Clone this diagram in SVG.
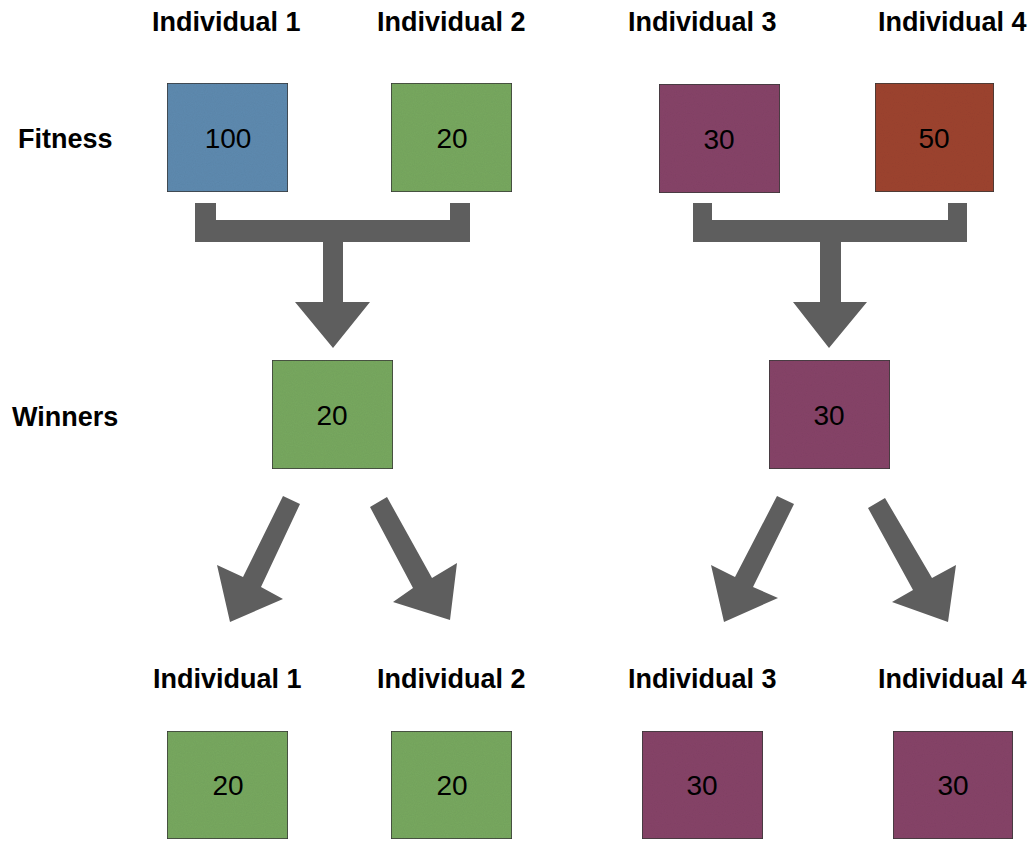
<svg xmlns="http://www.w3.org/2000/svg" width="1032" height="841" viewBox="0 0 1032 841">
  <defs>
    <!-- light paper grain for the coloured squares -->
    <filter id="grain" x="0" y="0" width="100%" height="100%">
      <feTurbulence type="fractalNoise" baseFrequency="0.9" numOctaves="2" seed="3" result="noise"/>
      <feColorMatrix in="noise" type="matrix" values="0 0 0 0 0  0 0 0 0 0  0 0 0 0 0  0 0 0 0.10 0" result="speck"/>
      <feComposite in="speck" in2="SourceGraphic" operator="in" result="speckIn"/>
      <feMerge>
        <feMergeNode in="SourceGraphic"/>
        <feMergeNode in="speckIn"/>
      </feMerge>
    </filter>
    <style>
      .box { stroke: #3a3a3a; stroke-width: 1.5; filter: url(#grain); }
      .blue { fill: #5f8bb0; }
      .green { fill: #78a961; }
      .purple { fill: #874469; }
      .red { fill: #9e4432; }
      .val { font-family: "Liberation Sans", Arial, sans-serif; font-size: 28px; fill: #000; text-anchor: middle; }
      .head { font-family: "Liberation Sans", Arial, sans-serif; font-size: 27px; font-weight: bold; fill: #000; }
      .arrow { fill: #5e5e5e; }
    </style>
  </defs>

  <rect width="1032" height="841" fill="#ffffff"/>

  <!-- row labels -->
  <g id="labels">
    <text class="head" x="18" y="148">Fitness</text>
    <text class="head" x="12" y="426">Winners</text>
  </g>

  <!-- column headings, top -->
  <g id="headings-top">
    <text class="head" x="152" y="31">Individual 1</text>
    <text class="head" x="377" y="31">Individual 2</text>
    <text class="head" x="628" y="31">Individual 3</text>
    <text class="head" x="878" y="31">Individual 4</text>
  </g>

  <!-- fitness row -->
  <g id="fit1"><rect class="box blue" x="167" y="83" width="121" height="109"/><text class="val" x="228" y="148">100</text></g>
  <g id="fit2"><rect class="box green" x="391" y="83" width="121" height="109"/><text class="val" x="452" y="148">20</text></g>
  <g id="fit3"><rect class="box purple" x="659" y="84" width="121" height="109"/><text class="val" x="719" y="149">30</text></g>
  <g id="fit4"><rect class="box red" x="875" y="83" width="119" height="109"/><text class="val" x="934" y="148">50</text></g>

  <!-- tournament winners -->
  <g id="win1"><rect class="box green" x="272" y="360" width="121" height="109"/><text class="val" x="332" y="425">20</text></g>
  <g id="win2"><rect class="box purple" x="769" y="360" width="121" height="109"/><text class="val" x="829" y="425">30</text></g>

  <!-- column headings, bottom -->
  <g id="headings-bottom">
    <text class="head" x="153" y="688">Individual 1</text>
    <text class="head" x="377" y="688">Individual 2</text>
    <text class="head" x="628" y="688">Individual 3</text>
    <text class="head" x="878" y="688">Individual 4</text>
  </g>

  <!-- next generation -->
  <g id="next1"><rect class="box green" x="167" y="731" width="121" height="108"/><text class="val" x="228" y="795">20</text></g>
  <g id="next2"><rect class="box green" x="391" y="731" width="121" height="108"/><text class="val" x="452" y="795">20</text></g>
  <g id="next3"><rect class="box purple" x="642" y="731" width="121" height="108"/><text class="val" x="702" y="795">30</text></g>
  <g id="next4"><rect class="box purple" x="893" y="731" width="120" height="108"/><text class="val" x="953" y="795">30</text></g>

  <!-- connectors -->
  <g id="connectors">
    <!-- bracket merges pairs into one winner -->
    <polygon class="arrow" points="195,203 216,203 216,220 450,220 450,203 470,203 470,242 343,242 343,302 370,302 333,348 295,302 323,302 323,242 195,242"/>
    <polygon class="arrow" points="693,203 712,203 712,220 948,220 948,203 967,203 967,242 841,242 841,302 867,302 829,348 793,302 820,302 820,242 693,242"/>
    <!-- winner copied to both offspring slots -->
    <polygon class="arrow" points="283,496 300,504 261,587 283,599 230,622 217,565 243,577"/>
    <polygon class="arrow" points="370,507 387,497 432,578 457,563 450,620 393,602 413,588"/>
    <polygon class="arrow" points="777,496 794,504 753,587 778,598 724,622 711,565 735,577"/>
    <polygon class="arrow" points="868,508 885,498 932,578 956,565 948,622 892,602 913,590"/>
  </g>
</svg>
